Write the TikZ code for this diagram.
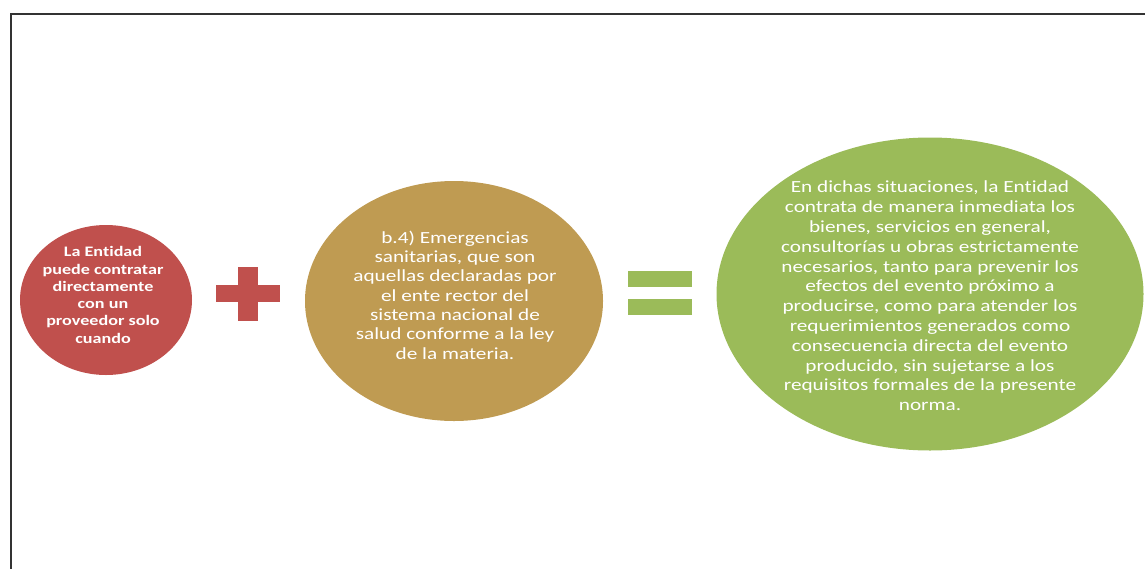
\documentclass[tikz,border=0pt]{standalone}
\usepackage{fontspec}
\setmainfont{Carlito}
\newfontfamily\cfont[FakeStretch=1.25,Ligatures={NoCommon}]{Carlito}
\usetikzlibrary{shapes.geometric}
\definecolor{cred}{HTML}{C0504D}
\definecolor{ctan}{HTML}{BF9B52}
\definecolor{cgreen}{HTML}{9BBB59}
\definecolor{frame}{HTML}{333333}
\begin{document}
\begin{tikzpicture}[x=1pt,y=-1pt,
  blob/.style={ellipse, draw=none, inner sep=0pt},
  txt/.style={text=white, align=center, inner sep=0pt}]
\useasboundingbox (0,0) rectangle (1145,568);
\draw[frame, line width=2.2pt] (1146,14) -- (11,14) -- (11,569);
% circles
\node[blob, fill=cred, minimum width=172pt, minimum height=150pt] (red) at (106,300) {};
\node[blob, fill=ctan, minimum width=298pt, minimum height=240pt] (tan) at (454,301) {};
\node[blob, fill=cgreen, minimum width=427pt, minimum height=313pt] (green) at (930,294) {};
% plus
\fill[cred] (216,285) rectangle (280,302);
\fill[cred] (238,267) rectangle (258,321);
% equals
\fill[cgreen] (628,271) rectangle (692,287);
\fill[cgreen] (628,299) rectangle (692,315);
% texts
\node[txt, font=\cfont\fontsize{14.5}{17.3}\selectfont\bfseries] (redtxt) at (103,295)
 {La Entidad\\puede contratar\\directamente\\con un\\proveedor solo\\cuando};
\node[txt, font=\cfont\fontsize{17}{19.3}\selectfont] (tantxt) at (455,295)
 {b.4) Emergencias\\sanitarias, que son\\aquellas declaradas por\\el ente rector del\\sistema nacional de\\salud conforme a la ley\\de la materia.};
\node[txt, font=\cfont\fontsize{17}{19.8}\selectfont] (greentxt) at (930,296)
 {En dichas situaciones, la Entidad\\contrata de manera inmediata los\\bienes, servicios en general,\\consultorías u obras estrictamente\\necesarios, tanto para prevenir los\\efectos del evento próximo a\\producirse, como para atender los\\requerimientos generados como\\consecuencia directa del evento\\producido, sin sujetarse a los\\requisitos formales de la presente\\norma.};
\end{tikzpicture}
\end{document}
